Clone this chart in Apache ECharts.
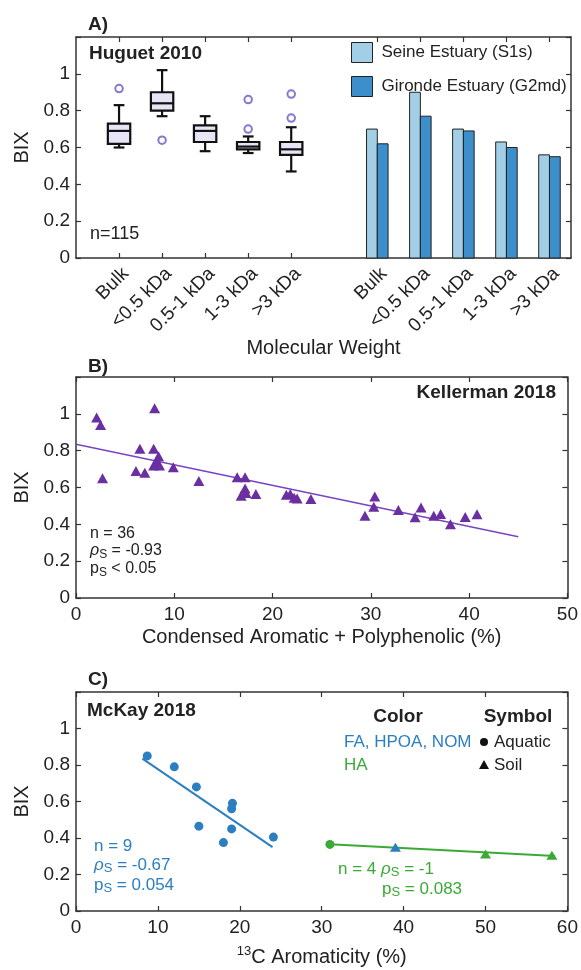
<!DOCTYPE html>
<html><head><meta charset="utf-8">
<script src="https://cdn.jsdelivr.net/npm/echarts@6.0.0/dist/echarts.min.js"></script>
<style>html,body{margin:0;padding:0;background:#fff}#c{width:581px;height:970px}</style>
</head><body><div id="c"></div>
<script>
const FONT = "'Liberation Sans', Arial, Helvetica, sans-serif";

// ---------- Panel A: Huguet 2010 ----------
const sizeClasses = ['Bulk', '<0.5 kDa', '0.5-1 kDa', '1-3 kDa', '>3 kDa'];
const boxPositions = [1, 2, 3, 4, 5];
const barPositions = [7, 8, 9, 10, 11];
const huguetWhiskerLow  = [0.60, 0.77, 0.58, 0.57, 0.47];
const huguetQ1          = [0.62, 0.80, 0.63, 0.59, 0.56];
const huguetMedian      = [0.69, 0.84, 0.69, 0.605, 0.59];
const huguetQ3          = [0.73, 0.90, 0.72, 0.63, 0.63];
const huguetWhiskerHigh = [0.83, 1.02, 0.77, 0.66, 0.71];
const outlierClass = [0, 1, 3, 3, 4, 4];
const outlierBIX   = [0.92, 0.64, 0.86, 0.70, 0.89, 0.76];
const seineBIX   = [0.70, 0.90, 0.70, 0.63, 0.56];
const girondeBIX = [0.62, 0.77, 0.69, 0.60, 0.55];

// ---------- Panel B: Kellerman 2018 ----------
const kellermanCAP = [2.1, 2.5, 2.7, 6.5, 6.1, 7.0, 7.9, 8.0, 8.4, 7.9, 8.5, 8.2, 9.9, 12.5,
  16.4, 17.2, 17.2, 16.8, 17.3, 18.3, 21.4, 21.8, 22.2, 22.5, 23.9, 29.4, 30.4, 30.3, 32.8,
  34.5, 35.1, 36.4, 37.1, 38.1, 39.6, 40.8];
const kellermanBIX = [0.98, 0.94, 0.65, 0.81, 0.69, 0.68, 0.81, 1.03, 0.77, 0.72, 0.72, 0.74, 0.71, 0.635,
  0.655, 0.655, 0.595, 0.555, 0.57, 0.565, 0.56, 0.565, 0.545, 0.54, 0.538, 0.447, 0.551, 0.496, 0.478,
  0.438, 0.492, 0.447, 0.456, 0.40, 0.44, 0.455];
const kellermanFitX = [0, 45];
const kellermanFitY = [0.835, 0.333];

// ---------- Panel C: McKay 2018 ----------
const aquaticFaAroma = [8.7, 12.0, 14.7, 15.0, 18.0, 19.1, 19.0, 19.0, 24.1];
const aquaticFaBIX   = [0.85, 0.79, 0.68, 0.465, 0.375, 0.59, 0.56, 0.45, 0.405];
const faFitX = [8.1, 24.0];
const faFitY = [0.835, 0.35];
const aquaticHaAroma = [31.0];
const aquaticHaBIX   = [0.365];
const soilFaAroma = [39.0];
const soilFaBIX   = [0.35];
const soilHaAroma = [50.0, 58.1];
const soilHaBIX   = [0.312, 0.305];
const haFitX = [31.0, 58.5];
const haFitY = [0.366, 0.302];

const C_PURPLE = '#6a2fa0', C_PURPLE_LINE = '#7844c4';
const C_BLUE = '#2b7fc1', C_GREEN = '#3aaa35';
const C_LIGHT = '#a3cfe6', C_DARK = '#3d8fcb';
const AX = '#333';

const zip = (a, b) => a.map((v, i) => [v, b[i]]);

function xAxisDef(gridIndex, min, max, interval, bottom, extra) {
  return Object.assign({
    type: 'value', gridIndex, min, max, interval,
    position: bottom ? 'bottom' : 'top',
    axisLine: { show: true, onZero: false, lineStyle: { color: AX, width: 1.5 } },
    axisTick: { show: true, inside: true, length: 5, lineStyle: { color: AX, width: 1.2 } },
    axisLabel: { show: bottom, color: '#222', fontSize: 19, fontFamily: FONT, margin: 7 },
    splitLine: { show: false }
  }, extra || {});
}
function yAxisDef(gridIndex, left, name) {
  return {
    type: 'value', gridIndex, min: 0, max: 1.2, interval: 0.2,
    position: left ? 'left' : 'right',
    name: left ? name : '', nameLocation: 'middle', nameGap: 44,
    nameTextStyle: { fontSize: 20, fontFamily: FONT, color: '#222' },
    axisLine: { show: true, onZero: false, lineStyle: { color: AX, width: 1.5 } },
    axisTick: { show: true, inside: true, length: 5, lineStyle: { color: AX, width: 1.2 } },
    axisLabel: { show: left, color: '#222', fontSize: 19, fontFamily: FONT, margin: 6,
      formatter: v => (v > 1.1 ? '' : String(+v.toFixed(1))) },
    splitLine: { show: false }
  };
}

const classTicks = boxPositions.concat(barPositions);
const classLabel = v => {
  let i = boxPositions.indexOf(v);
  if (i < 0) i = barPositions.indexOf(v);
  return i < 0 ? '' : sizeClasses[i];
};

function barSeries(name, values, color, side) {
  return {
    name, type: 'custom', xAxisIndex: 0, yAxisIndex: 0,
    itemStyle: { color, borderColor: '#222', borderWidth: 1 },
    data: zip(barPositions, values),
    encode: { x: 0, y: 1 },
    renderItem: (params, api) => {
      const x = api.value(0), v = api.value(1);
      const w = api.size([0.25, 0])[0];
      const top = api.coord([x, v]);
      const base = api.coord([x, 0]);
      const left = side < 0 ? top[0] - w : top[0];
      return { type: 'rect', shape: { x: left, y: top[1], width: w, height: base[1] - top[1] },
        style: { fill: color, stroke: '#222', lineWidth: 1 } };
    }
  };
}

function txt(x, y, text, o) {
  o = o || {};
  return {
    type: 'text', x, y, z: 100,
    style: {
      text, fill: o.fill || '#222',
      fontSize: o.size || 17, fontFamily: FONT, fontWeight: o.bold ? 'bold' : 'normal',
      align: o.align || 'left', textAlign: o.align || 'left',
      verticalAlign: 'middle', textVerticalAlign: 'middle',
      lineHeight: o.lh || 24,
      rich: {
        r: { fontStyle: 'italic', fontSize: o.size || 17, fontFamily: FONT, lineHeight: o.lh || 24 },
        s: { fontSize: Math.round((o.size || 17) * 0.75), fontFamily: FONT, verticalAlign: 'bottom', lineHeight: 14 },
        t: { fontSize: o.size || 17, fontFamily: FONT, lineHeight: o.lh || 24 }
      }
    }
  };
}

const option = {
  backgroundColor: '#fff',
  animation: false,
  textStyle: { fontFamily: FONT },
  grid: [
    { left: 76, top: 37, width: 495, height: 221 },
    { left: 76, top: 377, width: 495, height: 221 },
    { left: 76, top: 692, width: 494, height: 221 }
  ],
  legend: {
    data: ['Seine Estuary (S1s)', 'Gironde Estuary (G2md)'],
    orient: 'vertical', left: 351, top: 42, itemGap: 13, padding: 0,
    icon: 'rect', itemWidth: 21, itemHeight: 20,
    itemStyle: { borderColor: '#222', borderWidth: 1 },
    textStyle: { fontSize: 17, fontFamily: FONT, color: '#222', padding: [0, 0, 0, 4] },
    selectedMode: false
  },
  xAxis: [
    xAxisDef(0, 0, 11.5, 1, true, {
      name: 'Molecular Weight', nameLocation: 'middle', nameGap: 74,
      nameTextStyle: { fontSize: 20, fontFamily: FONT, color: '#222' },
      axisTick: { show: true, inside: true, length: 5, customValues: classTicks, lineStyle: { color: AX, width: 1.2 } },
      axisLabel: { show: true, rotate: 45, customValues: classTicks, formatter: classLabel,
        verticalAlign: 'top', color: '#222', fontSize: 19, fontFamily: FONT, margin: 6 }
    }),
    xAxisDef(0, 0, 11.5, 1, false, {
      axisTick: { show: true, inside: true, length: 5, customValues: classTicks, lineStyle: { color: AX, width: 1.2 } }
    }),
    xAxisDef(1, 0, 50, 10, true, {
      name: 'Condensed Aromatic + Polyphenolic (%)', nameLocation: 'middle', nameGap: 29,
      nameTextStyle: { fontSize: 20, fontFamily: FONT, color: '#222' }
    }),
    xAxisDef(1, 0, 50, 10, false),
    xAxisDef(2, 0, 60, 10, true, {
      name: '{sup|13}C Aromaticity (%)', nameLocation: 'middle', nameGap: 34,
      nameTextStyle: { fontSize: 20, fontFamily: FONT, color: '#222', lineHeight: 24,
        rich: { sup: { fontSize: 13, fontFamily: FONT, color: '#222', verticalAlign: 'top', lineHeight: 14 } } }
    }),
    xAxisDef(2, 0, 60, 10, false)
  ],
  yAxis: [
    yAxisDef(0, true, 'BIX'), yAxisDef(0, false),
    yAxisDef(1, true, 'BIX'), yAxisDef(1, false),
    yAxisDef(2, true, 'BIX'), yAxisDef(2, false)
  ],
  series: [
    {
      type: 'custom', xAxisIndex: 0, yAxisIndex: 0,
      data: boxPositions.map((p, i) => [p, huguetWhiskerLow[i], huguetQ1[i], huguetMedian[i], huguetQ3[i], huguetWhiskerHigh[i]]),
      encode: { x: 0, y: [1, 2, 3, 4, 5] },
      renderItem: (params, api) => {
        const x = api.value(0);
        const lo = api.coord([x, api.value(1)]), q1 = api.coord([x, api.value(2)]),
              md = api.coord([x, api.value(3)]), q3 = api.coord([x, api.value(4)]),
              hi = api.coord([x, api.value(5)]);
        const hb = api.size([0.26, 0])[0], hc = api.size([0.125, 0])[0];
        const ls = { stroke: '#111', lineWidth: 2.2 };
        return { type: 'group', children: [
          { type: 'line', shape: { x1: lo[0], y1: lo[1], x2: q1[0], y2: q1[1] }, style: ls },
          { type: 'line', shape: { x1: q3[0], y1: q3[1], x2: hi[0], y2: hi[1] }, style: ls },
          { type: 'line', shape: { x1: lo[0] - hc, y1: lo[1], x2: lo[0] + hc, y2: lo[1] }, style: ls },
          { type: 'line', shape: { x1: hi[0] - hc, y1: hi[1], x2: hi[0] + hc, y2: hi[1] }, style: ls },
          { type: 'rect', shape: { x: q3[0] - hb, y: q3[1], width: 2 * hb, height: q1[1] - q3[1] },
            style: { fill: '#e6e4f5', stroke: '#111', lineWidth: 2.2 } },
          { type: 'line', shape: { x1: md[0] - hb, y1: md[1], x2: md[0] + hb, y2: md[1] }, style: ls }
        ] };
      }
    },
    {
      type: 'scatter', xAxisIndex: 0, yAxisIndex: 0,
      symbol: 'emptyCircle', symbolSize: 7.5,
      itemStyle: { color: '#8479d0', borderColor: '#8479d0', borderWidth: 2.2, opacity: 1 },
      data: outlierClass.map((c, i) => [boxPositions[c], outlierBIX[i]])
    },
    barSeries('Seine Estuary (S1s)', seineBIX, C_LIGHT, -1),
    barSeries('Gironde Estuary (G2md)', girondeBIX, C_DARK, 1),

    { type: 'line', xAxisIndex: 2, yAxisIndex: 2, z: 2, showSymbol: false, symbol: 'none',
      lineStyle: { color: C_PURPLE_LINE, width: 1.5 }, data: zip(kellermanFitX, kellermanFitY) },
    { type: 'scatter', xAxisIndex: 2, yAxisIndex: 2, z: 3, symbol: 'triangle', symbolSize: [11, 10],
      itemStyle: { color: C_PURPLE, opacity: 1 }, data: zip(kellermanCAP, kellermanBIX) },

    { type: 'line', xAxisIndex: 4, yAxisIndex: 4, z: 2, showSymbol: false, symbol: 'none',
      lineStyle: { color: C_BLUE, width: 2 }, data: zip(faFitX, faFitY) },
    { type: 'line', xAxisIndex: 4, yAxisIndex: 4, z: 2, showSymbol: false, symbol: 'none',
      lineStyle: { color: C_GREEN, width: 2 }, data: zip(haFitX, haFitY) },
    { type: 'scatter', xAxisIndex: 4, yAxisIndex: 4, z: 3, symbol: 'circle', symbolSize: 9,
      itemStyle: { color: C_BLUE, opacity: 1 }, data: zip(aquaticFaAroma, aquaticFaBIX) },
    { type: 'scatter', xAxisIndex: 4, yAxisIndex: 4, z: 3, symbol: 'circle', symbolSize: 9,
      itemStyle: { color: C_GREEN, opacity: 1 }, data: zip(aquaticHaAroma, aquaticHaBIX) },
    { type: 'scatter', xAxisIndex: 4, yAxisIndex: 4, z: 3, symbol: 'triangle', symbolSize: [11, 9],
      itemStyle: { color: C_BLUE, opacity: 1 }, data: zip(soilFaAroma, soilFaBIX) },
    { type: 'scatter', xAxisIndex: 4, yAxisIndex: 4, z: 3, symbol: 'triangle', symbolSize: [11, 9],
      itemStyle: { color: C_GREEN, opacity: 1 }, data: zip(soilHaAroma, soilHaBIX) }
  ],
  graphic: [
    txt(88, 25, 'A)', { bold: true, size: 19 }),
    txt(89, 54, 'Huguet 2010', { bold: true, size: 19 }),
    txt(90, 234, 'n=115', { size: 18 }),

    txt(88, 367, 'B)', { bold: true, size: 19 }),
    txt(556, 393, 'Kellerman 2018', { bold: true, size: 19, align: 'right' }),
    txt(90, 534, 'n = 36', { size: 16 }),
    txt(90, 551, '{r|ρ}{s|S}{t| = -0.93}', { size: 16, lh: 20 }),
    txt(90, 569, '{t|p}{s|S}{t| < 0.05}', { size: 16, lh: 20 }),

    txt(88, 680, 'C)', { bold: true, size: 19 }),
    txt(87, 711, 'McKay 2018', { bold: true, size: 19 }),
    txt(398, 717, 'Color', { bold: true, size: 19, align: 'center' }),
    txt(518, 717, 'Symbol', { bold: true, size: 19, align: 'center' }),
    txt(344, 742, 'FA, HPOA, NOM', { size: 17, fill: C_BLUE }),
    txt(344, 765, 'HA', { size: 17, fill: C_GREEN }),
    { type: 'circle', z: 100, shape: { cx: 484, cy: 742, r: 4 }, style: { fill: '#111' } },
    { type: 'polygon', z: 100, shape: { points: [[484, 760], [479, 769], [489, 769]] }, style: { fill: '#111' } },
    txt(494, 742, 'Aquatic', { size: 17 }),
    txt(494, 765, 'Soil', { size: 17 }),

    txt(94, 846, 'n = 9', { size: 17, fill: C_BLUE }),
    txt(94, 865, '{r|ρ}{s|S}{t| = -0.67}', { size: 17, fill: C_BLUE, lh: 20 }),
    txt(94, 885, '{t|p}{s|S}{t| = 0.054}', { size: 17, fill: C_BLUE, lh: 20 }),
    txt(338, 869, 'n = 4 {r|ρ}{s|S}{t| = -1}', { size: 17, fill: C_GREEN, lh: 20 }),
    txt(382, 889, '{t|p}{s|S}{t| = 0.083}', { size: 17, fill: C_GREEN, lh: 20 })
  ]
};

const chart = echarts.init(document.getElementById('c'), null, { renderer: 'canvas' });
chart.setOption(option);
</script>
</body></html>
